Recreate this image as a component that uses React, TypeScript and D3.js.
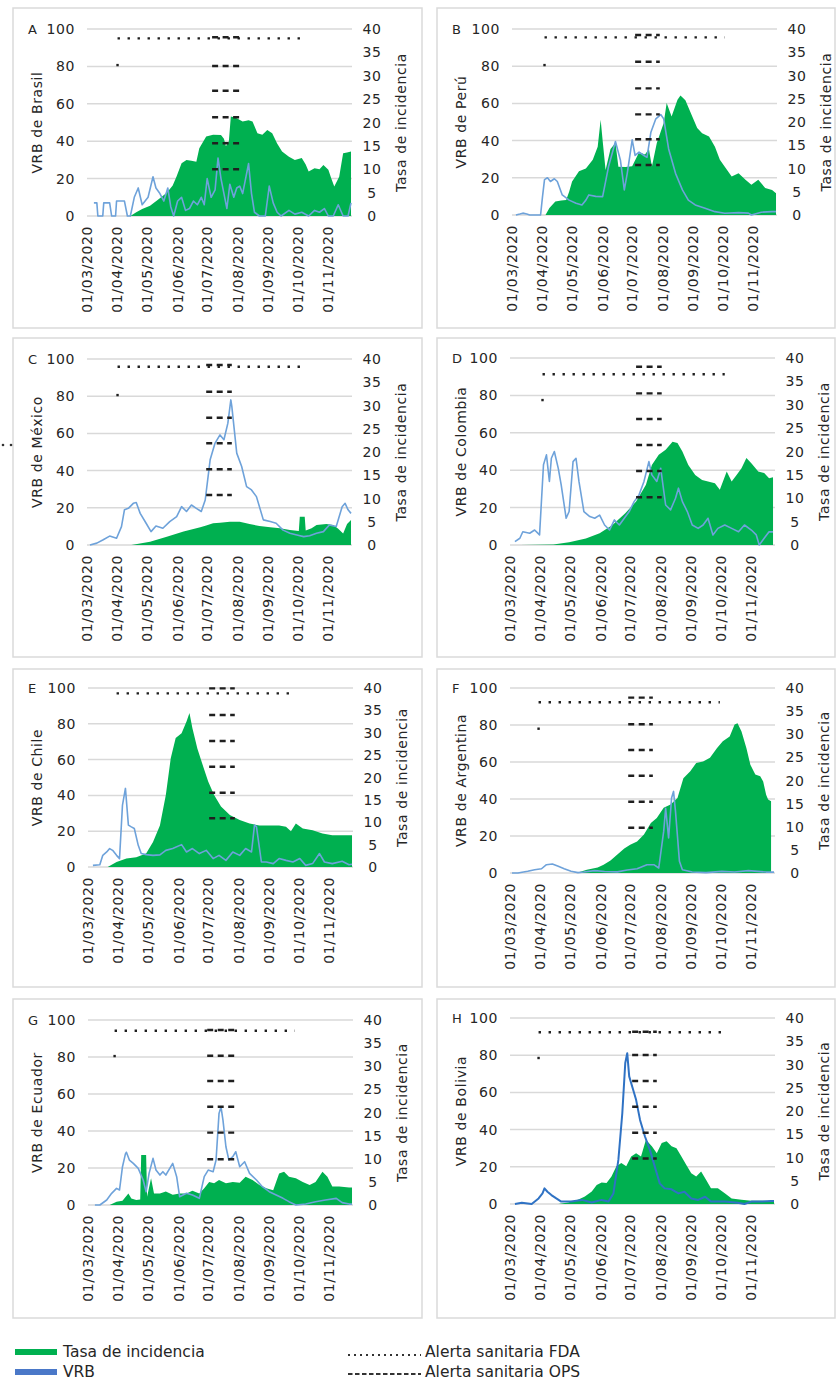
import React from 'react';
import * as d3 from 'd3';

// Day offsets count from 1 March 2020. VRB values use the left axis (0-100),
// incidence rates use the right axis (0-40).
const START = new Date(2020, 2, 1);
const END = new Date(2020, 10, 25);

const COUNTRIES = ['Brasil', 'Perú', 'México', 'Colombia', 'Chile', 'Argentina', 'Ecuador', 'Bolivia'];
const LETTERS = ['A', 'B', 'C', 'D', 'E', 'F', 'G', 'H'];

const LEFT_TICKS = [0, 20, 40, 60, 80, 100];
const RIGHT_TICKS = [0, 5, 10, 15, 20, 25, 30, 35, 40];

const VRB_BRASIL = [[7,7],[10,7],[11,0],[16,0],[17,7],[23,7],[25,0],[29,0],[30,8],[38,8],[41,0],[44,0],[48,10],[52,15],[56,6],[62,10],[67,21],[70,15],[74,12],[78,8],[82,15],[85,5],[88,0],[92,8],[96,10],[100,3],[104,4],[108,8],[112,6],[116,10],[119,6],[122,20],[126,10],[130,14],[133,31],[136,20],[139,12],[142,4],[145,17],[149,10],[152,15],[155,16],[158,12],[161,20],[164,28],[167,12],[170,2],[175,0],[181,0],[185,16],[189,7],[193,2],[197,0],[205,3],[211,1],[218,2],[225,0],[231,3],[236,2],[241,4],[245,0],[250,0],[255,6],[260,0],[265,0],[268,7]];
const TASA_BRASIL = [[44,0],[50,0.8],[56,1.5],[64,2.2],[72,3.5],[81,5],[87,6.5],[91,8.5],[96,11.3],[101,12],[106,11.8],[111,11.6],[114,14.5],[121,17],[128,17.4],[136,17.3],[139,16.5],[141,14.9],[144,16],[146,21.3],[151,21],[158,20.2],[164,20.5],[168,20.2],[173,17.7],[178,17.4],[183,18.4],[188,17.7],[193,15.5],[198,13.8],[205,12.7],[211,12],[218,12.4],[222,11],[225,9.5],[231,10.2],[236,10],[240,10.9],[245,9.9],[248,8],[251,6.3],[256,8.4],[260,13.4],[264,13.6],[268,13.8]];

const VRB_PERU = [[4,0],[8,0.5],[11,1],[15,0.5],[18,0],[29,0],[31,10],[33,19],[36,20],[39,18],[43,19.5],[46,18],[51,10.8],[58,8],[65,6.3],[71,5.4],[75,8],[78,10.8],[85,10],[92,9.9],[98,26],[105,39.5],[110,29.6],[114,13.5],[117,22.4],[122,40.4],[125,32],[129,33.8],[134,32],[137,31],[141,44.5],[146,51.7],[151,54],[154,51.7],[159,35.5],[166,22.4],[173,13.5],[179,8],[186,5.4],[196,3.6],[206,1.8],[216,0.9],[230,1.3],[240,1],[243,0],[253,1.5],[264,1.8],[268,1.8]];
const TASA_PERU = [[34,0],[38,1.5],[44,2.9],[50,3.1],[55,3.2],[58,5],[61,7.2],[68,9.4],[75,10],[82,11.9],[87,14.7],[90,20.5],[92,16],[95,9.7],[100,14.2],[105,15.5],[108,10.4],[115,10.3],[122,10.5],[129,13.5],[135,13],[139,14.2],[142,10.4],[147,15.5],[154,19.8],[157,24.1],[162,21.2],[168,24.8],[171,25.7],[176,24.7],[183,21.2],[188,18.7],[193,17.6],[200,16.9],[206,14.7],[211,11.9],[216,10.4],[223,8.3],[230,9],[237,7.6],[243,6.5],[250,7.6],[257,5.8],[264,5.4],[268,4.7]];

const VRB_MEXICO = [[3,0],[10,1],[16,2.7],[23,4.8],[30,3.6],[35,9.9],[38,18.9],[42,19.7],[47,22.4],[50,22.8],[54,17],[60,11.7],[65,7.2],[70,10.2],[77,9],[84,12.6],[91,15.3],[96,20.6],[101,18],[106,21.5],[111,19.7],[116,18],[120,24.2],[125,45.8],[130,54.8],[135,59.2],[139,56.6],[143,65.5],[146,78],[147,74.5],[152,49.4],[157,42.2],[162,31.4],[167,29.6],[172,26],[179,13.5],[186,12.6],[192,11.7],[199,8],[206,6.3],[213,5.4],[220,4.5],[226,5],[233,6.3],[240,7.2],[246,10.8],[253,9.9],[259,20.6],[262,22.4],[265,18.9],[268,17]];
const TASA_MEXICO = [[45,0],[64,0.7],[81,1.8],[98,2.9],[115,3.8],[121,4.2],[128,4.7],[135,4.8],[145,5],[155,5],[165,4.5],[175,4.1],[186,3.8],[196,3.6],[206,3.2],[215,3],[216,6.1],[221,6.1],[222,3.1],[228,3.6],[233,4.3],[243,4.5],[250,4.3],[255,3.5],[260,2.5],[264,4.5],[268,5.4]];

const VRB_COLOMBIA = [[5,1.8],[10,3.6],[13,7.1],[20,6.3],[25,8],[30,5.4],[34,42.9],[37,48.2],[40,34],[42,46.4],[45,50],[49,41],[52,32],[57,14.3],[60,17.9],[64,44.6],[67,46.4],[70,34],[75,17.9],[81,15.2],[86,14.3],[91,16],[96,10.7],[101,8],[106,13.4],[111,10.7],[116,14.3],[121,17.9],[126,23.2],[131,26.8],[136,34],[141,44.6],[144,37.5],[149,34],[153,41],[158,21.4],[163,18.8],[168,25],[171,30.4],[175,23.2],[180,17.9],[185,10.7],[191,8.9],[196,10.7],[201,14.3],[206,5.4],[211,8.9],[218,10.7],[225,8.9],[232,7.1],[238,10.7],[245,8],[250,5.4],[253,0],[258,3.6],[263,7.1],[267,7]];
const TASA_COLOMBIA = [[10,0],[44,0.1],[60,0.6],[77,1.4],[91,2.5],[104,4.3],[117,6.8],[128,9.3],[138,12.9],[144,17.1],[151,19.3],[158,20.4],[165,22.1],[170,21.8],[175,20],[181,17.1],[188,15],[195,13.9],[201,13.6],[208,13.2],[213,11.8],[220,15.7],[225,13.6],[230,15],[235,16.4],[240,18.6],[245,17.5],[252,15.7],[258,15.4],[263,14.3],[267,14.5]];

const VRB_CHILE = [[5,0.9],[12,1.3],[15,6.5],[19,8.4],[22,10.3],[25,9.3],[29,6.5],[32,4.7],[35,34.6],[38,43.9],[41,23.4],[44,22.4],[47,21.5],[51,12.1],[54,7.5],[59,6.9],[66,6.5],[73,6.8],[79,9.3],[86,10.3],[95,12.5],[100,8.4],[106,10.3],[113,7.5],[120,9.3],[127,4.7],[133,6.5],[140,3.7],[147,8.4],[154,6.5],[160,10.3],[166,8.4],[169,23.4],[171,22.5],[176,2.8],[181,2.8],[188,1.9],[194,4.7],[201,3.7],[208,2.8],[215,4.7],[221,0.9],[228,1.9],[235,7.5],[240,2.8],[248,1.9],[258,3.2],[265,1.3],[268,1.5]];
const TASA_CHILE = [[20,0],[29,1.1],[39,1.9],[49,2.2],[59,3],[66,5.6],[73,9.3],[79,16.1],[84,24.3],[89,28.8],[95,29.9],[100,32.5],[103,34.4],[106,31],[111,26.5],[117,22.4],[122,19.1],[128,16.1],[135,13.5],[144,11.6],[154,10.5],[164,9.7],[174,9.3],[184,9.3],[194,9.3],[201,9],[206,8],[211,9.7],[218,8.6],[228,8.2],[238,7.5],[248,7.1],[268,7.1]];

const VRB_ARGENTINA = [[2,0],[8,0],[18,0.9],[25,1.8],[32,2.3],[37,4.5],[43,4.9],[49,3.6],[55,2.3],[62,0.9],[69,0.2],[75,0.5],[86,1.3],[96,0.8],[109,0.6],[119,1.6],[129,2.3],[139,4.5],[146,4.5],[151,2.7],[156,22.5],[158,35],[161,18.9],[164,40.5],[166,44.1],[168,33.3],[172,6.3],[175,1.8],[185,0.5],[199,0.2],[215,0.9],[228,0.5],[242,1.3],[260,0.5],[268,0.5]];
const TASA_ARGENTINA = [[65,0],[69,0.1],[78,0.7],[89,1.2],[95,1.8],[102,2.7],[109,4],[116,5.3],[122,6.1],[129,6.8],[136,8.3],[143,10.8],[149,11.9],[156,14.1],[163,14.8],[170,16.2],[176,20.5],[183,22],[189,23.8],[196,24.1],[203,24.9],[210,27],[216,28.5],[223,29.5],[228,32.1],[231,32.4],[235,30.6],[240,27],[244,23.4],[249,21.3],[254,20.9],[257,19.8],[260,16.9],[262,15.9],[265,15.5]];

const VRB_ECUADOR = [[7,0],[12,0],[19,2.7],[24,6.3],[29,9],[32,8.1],[35,20.7],[38,27.6],[39,28.5],[42,24.3],[46,22.5],[51,19.8],[56,13.5],[59,7.2],[62,17.1],[66,25.2],[69,18.9],[73,16.2],[76,18],[79,16.2],[83,19.8],[86,22.5],[90,15.3],[93,4.5],[100,6.3],[106,5.4],[113,3.6],[118,15.3],[122,18.9],[127,18],[130,24.3],[133,49.5],[135,53],[137,45.9],[140,31.5],[143,24.3],[147,26.1],[150,28.8],[154,20.7],[159,23.4],[164,17.1],[171,13.5],[177,9.9],[184,7.2],[191,5.4],[198,3.6],[204,1.8],[211,0],[221,0.5],[231,1.8],[241,2.7],[252,3.6],[258,1.3],[265,0.5],[268,0.5]];
const TASA_ECUADOR = [[22,0],[29,0.7],[35,0.9],[41,2.5],[44,1.4],[49,1.1],[53,1.2],[54,10.8],[59,10.8],[60,1.8],[64,5.8],[67,2.5],[73,2.5],[79,2.9],[86,2.2],[93,2.5],[100,2.5],[106,3.1],[113,2.5],[118,3.6],[123,5],[128,4.7],[133,5.4],[140,4.7],[147,5],[154,4.8],[160,6.1],[167,5.4],[174,4.3],[181,3.6],[188,3.2],[194,6.8],[199,7.2],[204,6.1],[211,5.8],[218,5],[225,4.3],[231,5],[238,7.2],[243,6.1],[248,4],[255,4],[265,3.8],[268,3.8]];

const VRB_BOLIVIA = [[5,0],[12,0.7],[22,0],[29,3],[33,5.7],[35,8.4],[38,6.6],[42,4.8],[47,3],[52,1.3],[62,1.3],[73,2.2],[83,0.8],[93,2.2],[100,1.3],[105,5.7],[110,23.7],[114,48.8],[117,75.8],[119,81.1],[121,68.6],[125,61.4],[128,56],[132,45.2],[137,36.3],[142,29.1],[147,20.1],[152,11.1],[157,8.4],[164,7.9],[171,5.7],[177,6.6],[184,3],[191,2.2],[198,3.9],[204,1.3],[218,1.3],[231,0.7],[238,0],[245,1.3],[255,1.3],[265,1.6],[268,1.6]];
const TASA_BOLIVIA = [[49,0],[59,0.3],[69,0.9],[76,1.6],[83,2.7],[88,4.1],[93,4.6],[98,4.5],[103,5.9],[108,8.1],[113,8.8],[118,8.1],[123,10.2],[128,10.9],[133,10.2],[138,13.8],[144,12.4],[149,10.9],[154,13.1],[159,13.5],[164,12.4],[169,12],[174,10.2],[179,8.4],[184,6.6],[189,5.9],[194,7],[199,5.2],[204,3.4],[211,3.4],[218,2.3],[225,1.2],[235,0.9],[245,0.7],[255,0.7],[268,0.6]];

const VRB_SERIES = [VRB_BRASIL, VRB_PERU, VRB_MEXICO, VRB_COLOMBIA, VRB_CHILE, VRB_ARGENTINA, VRB_ECUADOR, VRB_BOLIVIA];
const TASA_SERIES = [TASA_BRASIL, TASA_PERU, TASA_MEXICO, TASA_COLOMBIA, TASA_CHILE, TASA_ARGENTINA, TASA_ECUADOR, TASA_BOLIVIA];

// Health alert markers (left-axis units, day offsets).
const FDA_LEVEL = [95, 95.5, 95.8, 91.3, 97, 92.3, 94.2, 92.3];
const FDA_DAYS = [[31, 218], [33, 216], [31, 218], [33, 218], [29, 208], [29, 213], [27, 210], [29, 215]];
const FDA_POINT = [80.7, 80.6, 80.6, 77.5, null, 78, 80.5, 78.5];
const OPS_DAYS = [[127, 155], [125, 150], [121, 147], [128, 154], [123, 149], [120, 145], [121, 149], [124, 149]];
const OPS_LEVELS = [
  [95.6, 80.2, 67, 52.8, 38.9, 25],
  [96.8, 82.4, 68.1, 54.1, 40.7, 26.9],
  [96.8, 82.4, 68.4, 54.7, 40.7, 26.9],
  [95.3, 81.1, 67.4, 53.5, 39.6, 25.5],
  [99.8, 84.9, 70.4, 56, 41.5, 27.2],
  [94.8, 80.4, 66.5, 52.6, 38.5, 24.5],
  [94.6, 80.7, 67, 53.1, 39.1, 24.7],
  [92.6, 80.1, 66.1, 52.3, 38.3, 24.5],
];

// Frame and plot-area geometry for each small chart.
const BOXES = [
  { x: 13, y: 8, w: 409, h: 320 }, { x: 437, y: 8, w: 398, h: 320 },
  { x: 13, y: 338, w: 409, h: 319 }, { x: 437, y: 338, w: 398, h: 319 },
  { x: 13, y: 669, w: 409, h: 318 }, { x: 437, y: 669, w: 398, h: 318 },
  { x: 13, y: 999, w: 409, h: 319 }, { x: 437, y: 999, w: 398, h: 319 },
];
const PLOTS = [
  { left: 87, top: 29, bottom: 216 }, { left: 512, top: 29, bottom: 215 },
  { left: 87, top: 359, bottom: 545 }, { left: 510, top: 358, bottom: 545 },
  { left: 88, top: 688, bottom: 867 }, { left: 510, top: 688, bottom: 873 },
  { left: 88, top: 1020, bottom: 1205 }, { left: 510, top: 1018, bottom: 1204 },
];
const PLOT_W = 265;

const GREEN = '#00b050';
const LINE_BLUE = '#6ea2da';
const DARK_BLUE = '#2f72c4';
const GRID = '#d9d9d9';
const TEXT = '#262626';
const FONT = '"DejaVu Sans", Verdana, sans-serif';

const toDate = (d: number) => d3.timeDay.offset(START, d);
const fmt = d3.timeFormat('%d/%m/%Y');

function Panel({ i }: { i: number }) {
  const box = BOXES[i];
  const p = PLOTS[i];
  const right = p.left + PLOT_W;
  const x = d3.scaleTime().domain([START, END]).range([p.left, right]);
  const yL = d3.scaleLinear().domain([0, 100]).range([p.bottom, p.top]);
  const yR = d3.scaleLinear().domain([0, 40]).range([p.bottom, p.top]);
  const months = d3.timeMonth.range(START, END);

  const area = d3.area<number[]>()
    .x((d) => x(toDate(d[0])))
    .y0(p.bottom)
    .y1((d) => yR(d[1]));
  const line = d3.line<number[]>()
    .x((d) => x(toDate(d[0])))
    .y((d) => yL(d[1]));

  const midY = (p.top + p.bottom) / 2;
  const fda = FDA_DAYS[i];
  const ops = OPS_DAYS[i];
  const isBolivia = i === 7;

  return (
    <g>
      <rect x={box.x} y={box.y} width={box.w} height={box.h} fill="#fff" stroke="#dadada" strokeWidth={1.5} />
      {LEFT_TICKS.map((t) => (
        <line key={'g' + t} x1={p.left} x2={right} y1={yL(t)} y2={yL(t)} stroke={GRID} strokeWidth={1.5} />
      ))}
      <path d={area(TASA_SERIES[i] as number[][]) || ''} fill={GREEN} />
      <path d={line(VRB_SERIES[i] as number[][]) || ''} fill="none"
        stroke={isBolivia ? DARK_BLUE : LINE_BLUE} strokeWidth={isBolivia ? 2 : 1.6} strokeLinejoin="round" />

      {/* FDA alert: dotted row plus an isolated point */}
      <line x1={x(toDate(fda[0]))} x2={x(toDate(fda[1]))} y1={yL(FDA_LEVEL[i])} y2={yL(FDA_LEVEL[i])}
        stroke="#1f1f1f" strokeWidth={2.4} strokeDasharray="2.4 7.6" />
      {FDA_POINT[i] !== null && (
        <rect x={x(toDate(fda[0])) - 1.2} y={yL(FDA_POINT[i] as number) - 1.2} width={2.4} height={2.4} fill="#1f1f1f" />
      )}
      {/* OPS alert: short dashed rows */}
      {OPS_LEVELS[i].map((v, k) => (
        <line key={'o' + k} x1={x(toDate(ops[0]))} x2={x(toDate(ops[1]))} y1={yL(v)} y2={yL(v)}
          stroke="#1f1f1f" strokeWidth={2.4} strokeDasharray="6 4.5" />
      ))}

      <g fontFamily={FONT} fill={TEXT} fontSize={14} letterSpacing={0.6}>
        <text x={box.x + 15} y={p.top + 5} fontSize={13}>{LETTERS[i]}</text>
        {LEFT_TICKS.map((t) => (
          <text key={'l' + t} x={p.left - 12} y={yL(t) + 5} textAnchor="end">{t}</text>
        ))}
        {RIGHT_TICKS.map((t) => (
          <text key={'r' + t} x={right + 20} y={yR(t) + 5} textAnchor="middle">{t}</text>
        ))}
        {months.map((m) => (
          <text key={'m' + m.getTime()} transform={`translate(${x(m)},${p.bottom + 10}) rotate(-90)`}
            textAnchor="end" dy="0.35em">{fmt(m)}</text>
        ))}
        <text transform={`translate(${box.x + 24},${midY}) rotate(-90)`} textAnchor="middle" dy="0.35em">
          {`VRB de ${COUNTRIES[i]}`}
        </text>
        <text transform={`translate(${right + 49},${midY}) rotate(-90)`} textAnchor="middle" dy="0.35em">
          Tasa de incidencia
        </text>
      </g>
    </g>
  );
}

export default function App() {
  return (
    <svg width={837} height={1380} style={{ position: 'absolute', left: 0, top: 0, background: '#fff' }}>
      <rect width={837} height={1380} fill="#fff" />
      {COUNTRIES.map((_, i) => <Panel key={i} i={i} />)}
      {/* stray marks left of panel C */}
      <circle cx={3} cy={445} r={1.3} fill="#333" />
      <circle cx={11} cy={445} r={1.3} fill="#333" />

      <g fontFamily={FONT} fill={TEXT} fontSize={15.5}>
        <rect x={15} y={1349} width={42} height={6} fill={GREEN} />
        <text x={63} y={1357}>Tasa de incidencia</text>
        <rect x={15} y={1369} width={42} height={6} fill="#4a78c8" />
        <text x={63} y={1377}>VRB</text>
        <line x1={348} x2={421} y1={1355} y2={1355} stroke="#333" strokeWidth={2} strokeDasharray="2 4" />
        <text x={425} y={1357}>Alerta sanitaria FDA</text>
        <line x1={348} x2={421} y1={1374} y2={1374} stroke="#333" strokeWidth={2} strokeDasharray="4.5 2.5" />
        <text x={425} y={1377}>Alerta sanitaria OPS</text>
      </g>
    </svg>
  );
}
